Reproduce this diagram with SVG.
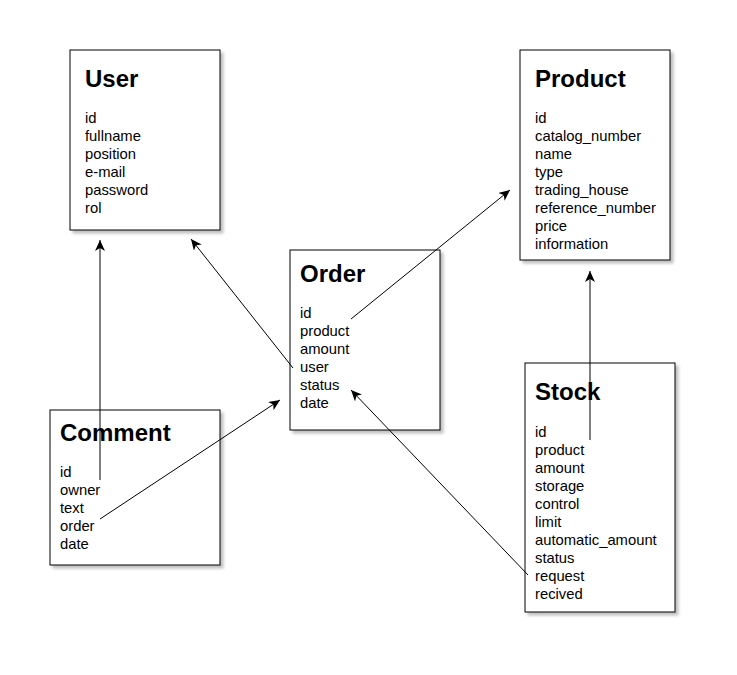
<svg xmlns="http://www.w3.org/2000/svg" width="737" height="675" viewBox="0 0 737 675">
<defs>
<filter id="sh" x="-10%" y="-10%" width="130%" height="130%">
<feDropShadow dx="3" dy="3" stdDeviation="1.5" flood-color="#000" flood-opacity="0.25"/>
</filter>
<marker id="arr" markerUnits="userSpaceOnUse" markerWidth="12" markerHeight="10" viewBox="0 0 12 10" refX="11" refY="5" orient="auto">
<path d="M0,0 L11,5 L0,10 L3,5 Z" fill="#000"/>
</marker>
<style>
.box{fill:#fff;stroke:#000;stroke-width:1;filter:url(#sh)}
.title{font-family:"Liberation Sans",Arial,sans-serif;font-weight:bold;font-size:24px;fill:#000}
.f{font-family:"Liberation Sans",Arial,sans-serif;font-size:14.8px;fill:#000}
.c{stroke:#000;stroke-width:1;fill:none;marker-end:url(#arr)}
</style>
</defs>
<rect width="737" height="675" fill="#fff"/>
<g id="user">
<rect class="box" x="70" y="50" width="150" height="180"/>
<text class="title" x="85" y="87">User</text>
<text class="f" x="85" y="123">id</text>
<text class="f" x="85" y="141">fullname</text>
<text class="f" x="85" y="159">position</text>
<text class="f" x="85" y="177">e-mail</text>
<text class="f" x="85" y="195">password</text>
<text class="f" x="85" y="213">rol</text>
</g>
<g id="product">
<rect class="box" x="520" y="50" width="150" height="210"/>
<text class="title" x="535" y="87">Product</text>
<text class="f" x="535" y="123">id</text>
<text class="f" x="535" y="141">catalog_number</text>
<text class="f" x="535" y="159">name</text>
<text class="f" x="535" y="177">type</text>
<text class="f" x="535" y="195">trading_house</text>
<text class="f" x="535" y="213">reference_number</text>
<text class="f" x="535" y="231">price</text>
<text class="f" x="535" y="249">information</text>
</g>
<g id="order">
<rect class="box" x="290" y="250" width="150" height="180"/>
<text class="title" x="300" y="282">Order</text>
<text class="f" x="300" y="318">id</text>
<text class="f" x="300" y="336">product</text>
<text class="f" x="300" y="354">amount</text>
<text class="f" x="300" y="372">user</text>
<text class="f" x="300" y="390">status</text>
<text class="f" x="300" y="408">date</text>
</g>
<g id="comment">
<rect class="box" x="50" y="410" width="170" height="155"/>
<text class="title" x="60" y="441">Comment</text>
<text class="f" x="60" y="477">id</text>
<text class="f" x="60" y="495">owner</text>
<text class="f" x="60" y="513">text</text>
<text class="f" x="60" y="531">order</text>
<text class="f" x="60" y="549">date</text>
</g>
<g id="stock">
<rect class="box" x="525" y="363" width="150" height="249"/>
<text class="title" x="535" y="400">Stock</text>
<text class="f" x="535" y="437">id</text>
<text class="f" x="535" y="455">product</text>
<text class="f" x="535" y="473">amount</text>
<text class="f" x="535" y="491">storage</text>
<text class="f" x="535" y="509">control</text>
<text class="f" x="535" y="527">limit</text>
<text class="f" x="535" y="545">automatic_amount</text>
<text class="f" x="535" y="563">status</text>
<text class="f" x="535" y="581">request</text>
<text class="f" x="535" y="599">recived</text>
</g>
<g id="connectors">
<line class="c" x1="100" y1="480" x2="100" y2="240"/>
<line class="c" x1="293" y1="368" x2="191" y2="239"/>
<line class="c" x1="351" y1="319" x2="510" y2="190"/>
<line class="c" x1="590" y1="440" x2="590" y2="271"/>
<line class="c" x1="100" y1="519" x2="280" y2="400"/>
<line class="c" x1="528" y1="575" x2="351" y2="390"/>
</g>
</svg>
